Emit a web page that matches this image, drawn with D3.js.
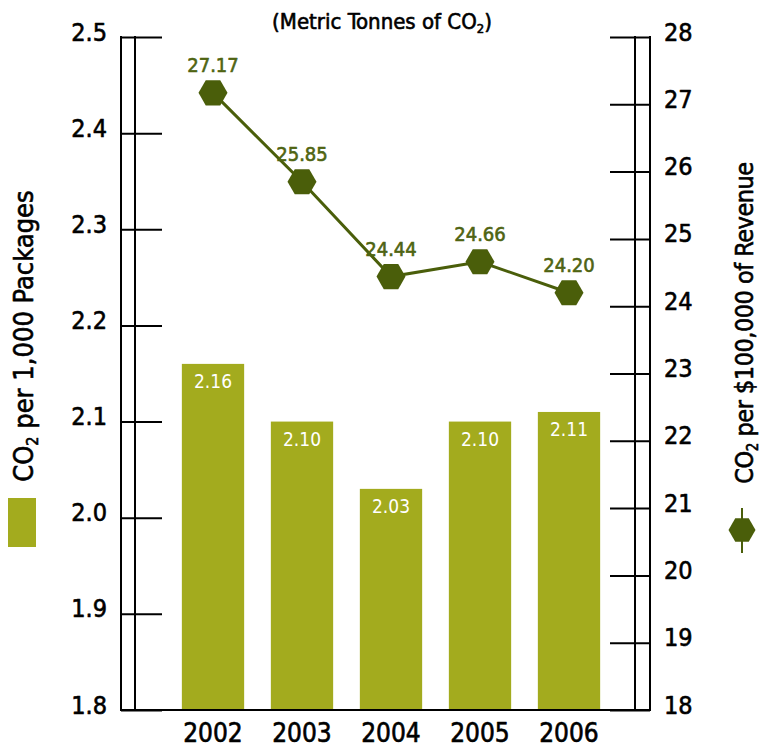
<!DOCTYPE html>
<html>
<head>
<meta charset="utf-8">
<script src="https://cdn.jsdelivr.net/npm/d3@7"></script>
<style>
  html, body { margin: 0; padding: 0; background: #fff; }
  svg text {
    font-family: "DejaVu Sans Condensed", "Liberation Sans Narrow", "Open Sans", sans-serif;
    font-stretch: condensed;
    stroke-width: 0.6px;
    stroke-linejoin: round;
  }
</style>
</head>
<body>
<div id="chart"></div>
<script>
// Emissions per 1,000 packages (bars, left axis) and per $100,000 of revenue (line, right axis)
const years = ["2002", "2003", "2004", "2005", "2006"];
const perPackages = [2.16, 2.10, 2.03, 2.10, 2.11];
const perRevenue = [27.17, 25.85, 24.44, 24.66, 24.20];
const leftTicks = [1.8, 1.9, 2.0, 2.1, 2.2, 2.3, 2.4, 2.5];
const rightTicks = [18, 19, 20, 21, 22, 23, 24, 25, 26, 27, 28];

const W = 762, H = 747;
const barColor = "#a3ab1e";
const lineColor = "#4a5e0a";
const labelColor = "#4f6412";

const svg = d3.select("#chart").append("svg")
  .attr("width", W).attr("height", H);

const plotTop = 37, plotBottom = 710;
const leftOuter = 121, leftInner = 135, rightInner = 635, rightOuter = 650;

const x = d3.scaleBand().domain(years).range([168.5, 613.5])
  .paddingInner(0.3).paddingOuter(0.15);
const yL = d3.scaleLinear().domain([1.8, 2.5]).range([plotBottom, plotTop]);
const yR = d3.scaleLinear().domain([18, 28]).range([plotBottom, plotTop]);

// bars
svg.append("g").selectAll("rect")
  .data(years)
  .join("rect")
  .attr("x", d => x(d))
  .attr("width", x.bandwidth())
  .attr("y", (d, i) => yL(perPackages[i]))
  .attr("height", (d, i) => plotBottom - yL(perPackages[i]))
  .attr("fill", barColor);

svg.append("g").selectAll("text")
  .data(years)
  .join("text")
  .attr("x", d => x(d) + x.bandwidth() / 2)
  .attr("y", (d, i) => yL(perPackages[i]) + 24)
  .attr("text-anchor", "middle")
  .attr("fill", "#fff")
  .attr("font-size", 19)
  .text((d, i) => perPackages[i].toFixed(2));

// frame lines
const frame = svg.append("g").attr("stroke", "#000").attr("stroke-width", 2).attr("fill", "none");
[leftOuter, leftInner, rightInner, rightOuter].forEach(xx => {
  frame.append("line").attr("x1", xx).attr("x2", xx).attr("y1", plotTop - 1).attr("y2", plotBottom + 1);
});
frame.append("line").attr("x1", leftOuter - 1).attr("x2", rightOuter + 1)
  .attr("y1", plotBottom).attr("y2", plotBottom);

// left axis
const axL = svg.append("g")
  .attr("transform", `translate(${leftOuter},0)`)
  .call(d3.axisLeft(yL).tickValues(leftTicks).tickFormat(d3.format(".1f"))
    .tickSizeInner(-41).tickSizeOuter(0).tickPadding(14));
axL.select(".domain").remove();
axL.selectAll(".tick line").attr("stroke", "#000").attr("stroke-width", 2);
axL.selectAll(".tick text")
  .attr("font-size", 25).attr("fill", "#000").attr("stroke", "#000").attr("dy", "0.12em");
axL.attr("font-family", null);

// right axis
const axR = svg.append("g")
  .attr("transform", `translate(${rightOuter},0)`)
  .call(d3.axisRight(yR).tickValues(rightTicks).tickFormat(d3.format("d"))
    .tickSizeInner(-40).tickSizeOuter(0).tickPadding(14));
axR.select(".domain").remove();
axR.selectAll(".tick line").attr("stroke", "#000").attr("stroke-width", 2);
axR.selectAll(".tick text")
  .attr("font-size", 25).attr("fill", "#000").attr("stroke", "#000").attr("dy", "0.12em");
axR.attr("font-family", null);

// year labels
svg.append("g").selectAll("text")
  .data(years)
  .join("text")
  .attr("x", d => x(d) + x.bandwidth() / 2)
  .attr("y", 742)
  .attr("text-anchor", "middle")
  .attr("font-size", 26)
  .attr("fill", "#000")
  .attr("stroke", "#000")
  .text(d => d);

// revenue line with hexagon markers
const cx = d => x(d) + x.bandwidth() / 2;
const line = d3.line().x((d, i) => cx(years[i])).y(d => yR(d));
svg.append("path")
  .datum(perRevenue)
  .attr("d", line)
  .attr("fill", "none")
  .attr("stroke", lineColor)
  .attr("stroke-width", 3);

function hexagon(r) {
  const pts = d3.range(6).map(k => {
    const a = Math.PI / 3 * k;
    return [r * Math.cos(a), r * Math.sin(a)];
  });
  return "M" + pts.map(p => p.join(",")).join("L") + "Z";
}

svg.append("g").selectAll("path")
  .data(perRevenue)
  .join("path")
  .attr("transform", (d, i) => `translate(${cx(years[i])},${yR(d)})`)
  .attr("d", hexagon(14.5))
  .attr("fill", lineColor);

svg.append("g").selectAll("text")
  .data(perRevenue)
  .join("text")
  .attr("x", (d, i) => cx(years[i]))
  .attr("y", d => yR(d) - 21)
  .attr("text-anchor", "middle")
  .attr("font-size", 20)
  .attr("fill", labelColor)
  .attr("stroke", labelColor)
  .attr("stroke-width", 0.3)
  .text(d => d.toFixed(2));

// title
const title = svg.append("text")
  .attr("x", 382).attr("y", 29)
  .attr("text-anchor", "middle")
  .attr("font-size", 22)
  .attr("fill", "#000")
  .attr("stroke", "#000");
title.append("tspan").text("(Metric Tonnes of CO");
title.append("tspan").attr("font-size", 13).attr("dy", 4).text("2");
title.append("tspan").attr("dy", -4).text(")");

// left legend: axis title + swatch
const lt = svg.append("text")
  .attr("transform", "translate(33,336) rotate(-90)")
  .attr("text-anchor", "middle")
  .attr("font-size", 27)
  .attr("fill", "#000")
  .attr("stroke", "#000");
lt.append("tspan").text("CO");
lt.append("tspan").attr("font-size", 16).attr("dy", 5).text("2");
lt.append("tspan").attr("dy", -5).text(" per 1,000 Packages");

svg.append("rect")
  .attr("x", 8).attr("y", 498).attr("width", 28).attr("height", 49)
  .attr("fill", barColor);

// right legend: axis title + marker
const rt = svg.append("text")
  .attr("transform", "translate(753,323) rotate(-90)")
  .attr("text-anchor", "middle")
  .attr("font-size", 25)
  .attr("letter-spacing", -0.5)
  .attr("fill", "#000")
  .attr("stroke", "#000");
rt.append("tspan").text("CO");
rt.append("tspan").attr("font-size", 15).attr("dy", 5).text("2");
rt.append("tspan").attr("dy", -5).text(" per $100,000 of Revenue");

svg.append("line")
  .attr("x1", 742).attr("x2", 742).attr("y1", 508).attr("y2", 553)
  .attr("stroke", lineColor).attr("stroke-width", 2);
svg.append("path")
  .attr("transform", "translate(742,530)")
  .attr("d", hexagon(13.5))
  .attr("fill", lineColor);
</script>
</body>
</html>
